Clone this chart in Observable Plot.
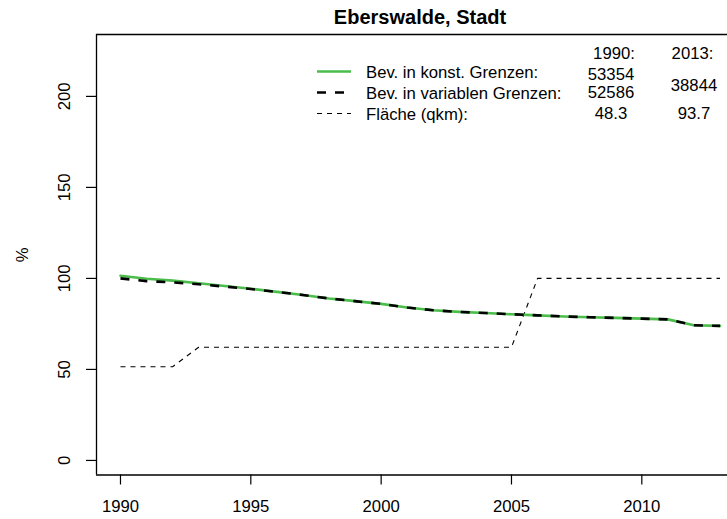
<!DOCTYPE html>
<html><head><meta charset="utf-8">
<script src="https://cdn.jsdelivr.net/npm/d3@7"></script>
<script src="https://cdn.jsdelivr.net/npm/@observablehq/plot@0.6"></script>
<style>
body{margin:0;background:#fff}
#c{width:727px;height:519px;overflow:hidden;position:relative}
#c svg{overflow:hidden;max-width:none}
</style>
</head><body><div id="c"></div>
<script>
// ---- data ----
const years = [1990,1991,1992,1993,1994,1995,1996,1997,1998,1999,2000,2001,2002,2003,2004,2005,2006,2007,2008,2009,2010,2011,2012,2013];
const bevKonst = [101.5,99.8,98.8,97.3,95.8,94.3,92.6,90.9,89.0,87.5,86.0,84.0,82.5,81.6,81.0,80.3,79.7,79.1,78.7,78.3,77.9,77.5,74.3,73.9];
const bevVar   = [100.0,98.5,97.8,96.8,95.5,94.2,92.6,90.9,89.0,87.5,86.0,84.0,82.5,81.6,81.0,80.3,79.7,79.1,78.7,78.3,77.9,77.5,74.3,73.9];
const flaeche  = [51.5,51.5,51.5,62.2,62.2,62.2,62.2,62.2,62.2,62.2,62.2,62.2,62.2,62.2,62.2,62.2,100,100,100,100,100,100,100,100];
const xTicks = [1990,1995,2000,2005,2010];
const yTicks = [0,50,100,150,200];
const title = "Eberswalde, Stadt";
const yLabel = "%";
const legendLabels = ["Bev. in konst. Grenzen:", "Bev. in variablen Grenzen:", "Fläche (qkm):"];
const legendYears = ["1990:", "2013:"];
const values1990 = ["53354", "52586", "48.3"];
const values2013 = ["38844", "93.7"];

// ---- chart ----
const rows = years.map((y, i) => ({year: y, konst: bevKonst[i], vari: bevVar[i], fl: flaeche[i]}));
const font = "'Liberation Sans', Arial, sans-serif";
const FS = 16.7;
const green = "#4abd4a";
const xDom = [1989.08, 2013.92], yDom = [-8, 234];

const plot = Plot.plot({
  width: 727, height: 519,
  marginLeft: 96, marginTop: 34, marginBottom: 44.5, marginRight: 0,
  style: {fontFamily: font, fontSize: FS + "px", color: "#000", background: "#fff"},
  x: {domain: xDom, range: [96, 743.5]},
  y: {domain: yDom, range: [474.5, 34]},
  marks: [
    Plot.ruleX([xDom[0]], {stroke: "#000", strokeWidth: 1.3}),
    Plot.ruleY([yDom[0]], {stroke: "#000", strokeWidth: 1.3}),
    Plot.ruleY([yDom[1]], {stroke: "#000", strokeWidth: 1.3}),
    Plot.axisX(xTicks, {anchor: "bottom", tickSize: 10, tickPadding: 15, label: null,
      tickFormat: d => String(d), fontSize: FS, strokeWidth: 1.2}),
    Plot.axisY(yTicks, {anchor: "left", tickSize: 10, label: null, tickFormat: () => "", strokeWidth: 1.2}),
    Plot.text(yTicks, {y: d => d, text: d => String(d), frameAnchor: "left", dx: -32,
      rotate: -90, textAnchor: "middle", lineAnchor: "middle", fontSize: FS}),
    Plot.text([yLabel], {frameAnchor: "left", dx: -74, rotate: -90, textAnchor: "middle",
      lineAnchor: "middle", fontSize: FS}),
    Plot.line(rows, {x: "year", y: "fl", stroke: "#000", strokeWidth: 1.1, strokeDasharray: "5,5", strokeLinecap: "butt"}),
    Plot.line(rows, {x: "year", y: "konst", stroke: green, strokeWidth: 2.6}),
    Plot.line(rows, {x: "year", y: "vari", stroke: "#000", strokeWidth: 2.6, strokeDasharray: "9,9", strokeLinecap: "butt"})
  ]
});
document.getElementById("c").appendChild(plot);

// ---- title & legend ----
const svg = d3.select(plot);
svg.append("text").attr("x", 420).attr("y", 24).attr("text-anchor", "middle")
  .attr("font-weight", "bold").attr("font-size", 20).attr("font-family", font).text(title);

const g = svg.append("g").attr("font-family", font).attr("font-size", FS).attr("fill", "#000")
  .attr("text-anchor", "start");
const rowY = [71.5, 92.5, 113.5];
const sampleStyles = [
  {stroke: green, w: 2.4, dash: null},
  {stroke: "#000", w: 2.6, dash: "9,9"},
  {stroke: "#000", w: 1.1, dash: "5,5"}
];
legendLabels.forEach((lab, i) => {
  const s = sampleStyles[i];
  const ln = g.append("line").attr("x1", 317).attr("x2", 351).attr("y1", rowY[i]).attr("y2", rowY[i])
    .attr("stroke", s.stroke).attr("stroke-width", s.w);
  if (s.dash) ln.attr("stroke-dasharray", s.dash);
  g.append("text").attr("x", 366).attr("y", rowY[i] + 6).attr("text-anchor", "start").text(lab);
});
g.append("text").attr("x", 614).attr("y", 59).attr("text-anchor", "middle").text(legendYears[0]);
g.append("text").attr("x", 692.5).attr("y", 59).attr("text-anchor", "middle").text(legendYears[1]);
const v1y = [79.5, 97.5, 119];
values1990.forEach((v, i) => {
  g.append("text").attr("x", 611).attr("y", v1y[i]).attr("text-anchor", "middle").text(v);
});
const v2y = [91, 119];
values2013.forEach((v, i) => {
  g.append("text").attr("x", 694).attr("y", v2y[i]).attr("text-anchor", "middle").text(v);
});
</script>
</body></html>
